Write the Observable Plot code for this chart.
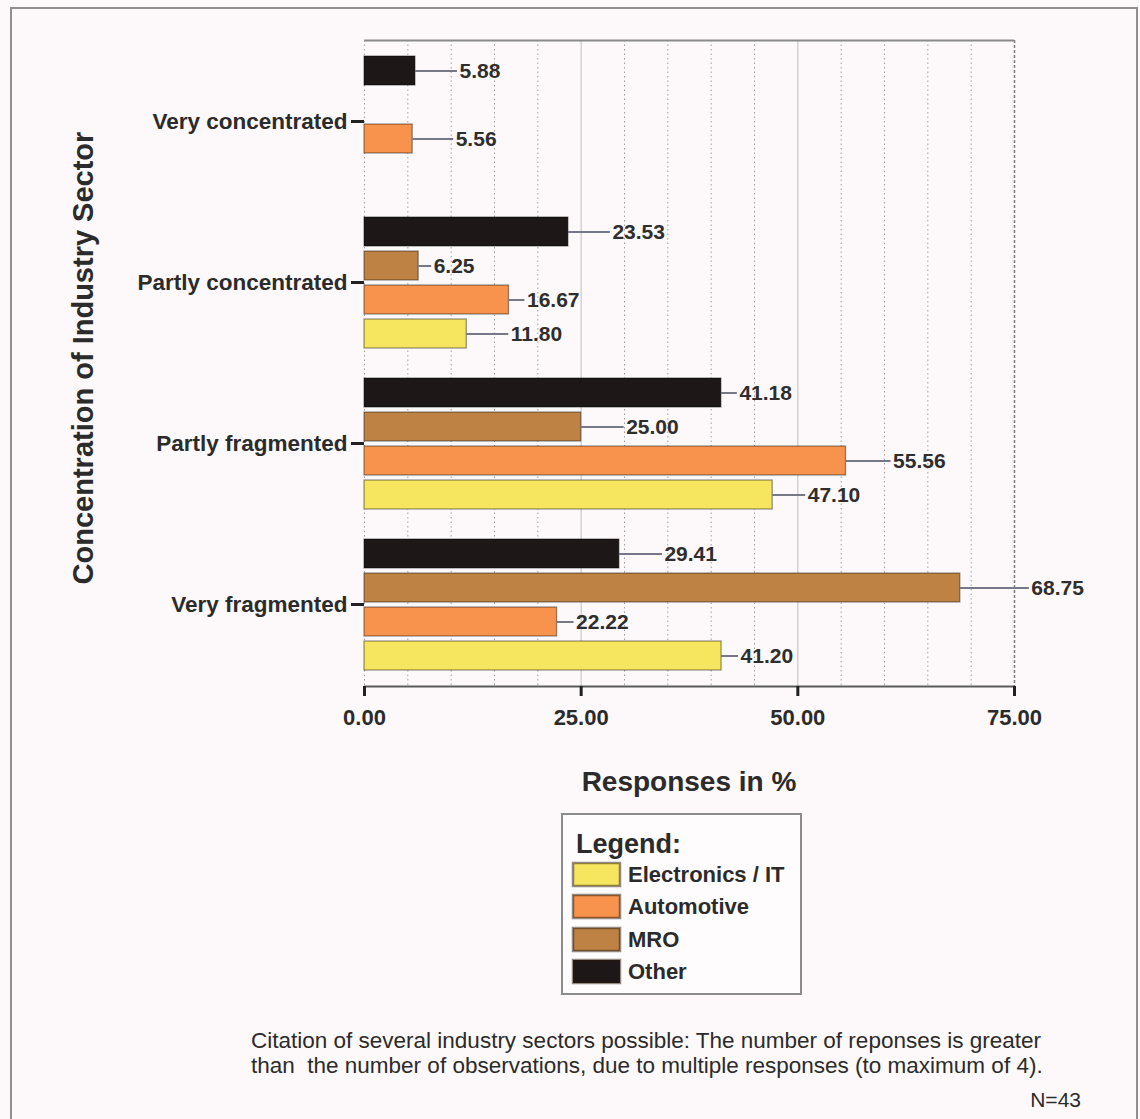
<!DOCTYPE html>
<html>
<head>
<meta charset="utf-8">
<script src="https://cdn.jsdelivr.net/npm/d3@7"></script>
<script src="https://cdn.jsdelivr.net/npm/@observablehq/plot@0.6"></script>
<style>
  html, body { margin: 0; padding: 0; background: #fdf9fa; }
  #page { position: relative; width: 1140px; height: 1119px; overflow: hidden;
          font-family: "Liberation Sans", Arial, sans-serif; color: #2b2b2b; background: #fdf9fa; }
  #outer { position: absolute; left: 10px; top: 7px; width: 1128px; height: 1140px;
           border: 2px solid #8f8f8f; box-sizing: border-box; }
  #grid, #chart { position: absolute; left: 0; top: 0; }
  #ylabel { position: absolute; left: 83px; top: 358px; transform: translate(-50%, -50%) rotate(-90deg);
            white-space: nowrap; font: bold 29px/1 "Liberation Sans", Arial, sans-serif; color: #2b2b2b; }
  #xlabel { position: absolute; left: 0; width: 1378px; text-align: center; top: 768px;
            font: bold 28px/1 "Liberation Sans", Arial, sans-serif; color: #2b2b2b; }
  #legendBox { position: absolute; left: 561px; top: 813px; width: 241px; height: 182px;
               border: 2px solid #8c8c8c; box-sizing: border-box; background: #fefcfc; }
  #legendTitle { position: absolute; left: 13px; top: 16px; font: bold 27px/1 "Liberation Sans", Arial, sans-serif; color: #2b2b2b; }
  #legendHolder { position: absolute; left: 10px; top: 46px; width: 225px; }
  .sector-swatches-columns { margin: 0 !important; columns: 1 !important; }
  .sector-swatch { font: bold 22px/27px "Liberation Sans", Arial, sans-serif !important; color: #2b2b2b;
                   margin-bottom: 5.3px; padding-bottom: 0 !important; overflow: visible !important; }
  .sector-swatch span, .sector-swatch div { overflow: visible !important; text-overflow: clip !important; }
  .sector-swatch svg { margin-right: 8px !important; }
  .sector-swatch svg rect { stroke: rgba(40, 25, 10, 0.5); stroke-width: 2.5px; }
  #caption { position: absolute; left: 251px; top: 1028px; font: 22.5px/25px "Liberation Sans", Arial, sans-serif; color: #2b2b2b; white-space: nowrap; }
  #nobs { position: absolute; right: 59px; top: 1089px; font: 21px/1 "Liberation Sans", Arial, sans-serif; color: #2b2b2b; }
</style>
</head>
<body>
<div id="page">
  <div id="outer"></div>
  <div id="grid"></div>
  <div id="chart"></div>
  <div id="ylabel">Concentration of Industry Sector</div>
  <div id="xlabel">Responses in %</div>
  <div id="legendBox">
    <div id="legendTitle">Legend:</div>
    <div id="legendHolder"></div>
  </div>
  <div id="caption">Citation of several industry sectors possible: The number of reponses is greater<br>than&nbsp; the number of observations, due to multiple responses (to maximum of 4).</div>
  <div id="nobs">N=43</div>
</div>
<script>
// Degree of concentration of the industry sector
const categories = ["Very concentrated", "Partly concentrated", "Partly fragmented", "Very fragmented"];

// Industry sectors (legend order)
const seriesNames = ["Electronics / IT", "Automotive", "MRO", "Other"];

// Responses in % per sector, one value per concentration category (null = no bar)
const electronics = [null, 11.80, 47.10, 41.20];
const automotive  = [5.56, 16.67, 55.56, 22.22];
const mro         = [null, 6.25, 25.00, 68.75];
const other       = [5.88, 23.53, 41.18, 29.41];

// Axis ticks
const xTicks = [0, 25, 50, 75];
const gridTicks = [0, 5, 10, 15, 20, 30, 35, 40, 45, 55, 60, 65, 70];

// Sector colours
const colors = ["#f6e55f", "#f8934d", "#be8344", "#1e1717"];

// Length (px) of the leader line between each bar end and its value label
const leaderElectronics = [null, 42, 33, 17];
const leaderAutomotive  = [41, 16, 45, 17];
const leaderMro         = [null, 13, 43, 69];
const leaderOther       = [42, 42, 16, 43];

const seriesValues = [electronics, automotive, mro, other];
const seriesLeaders = [leaderElectronics, leaderAutomotive, leaderMro, leaderOther];

const rows = [];
seriesNames.forEach((s, i) => categories.forEach((c, j) => {
  const v = seriesValues[i][j];
  if (v != null) rows.push({category: c, series: s, value: v, leader: seriesLeaders[i][j]});
}));

const fontFamily = '"Liberation Sans", Arial, sans-serif';
const frame = {width: 1140, height: 740, marginTop: 40, marginBottom: 54, marginLeft: 364, marginRight: 126};

// Grid layer: continuous vertical lines behind all the groups, plus the x axis
const grid = Plot.plot({
  ...frame,
  style: {background: "transparent", fontFamily, overflow: "visible"},
  x: {domain: [0, 75], axis: null},
  y: {domain: [0, 1], axis: null},
  marks: [
    Plot.ruleX(gridTicks, {stroke: "#9f9f9f", strokeDasharray: "1.5,3", strokeWidth: 1}),
    Plot.ruleX([25, 50], {stroke: "#c8c8c8", strokeWidth: 1.2}),
    Plot.ruleX([75], {stroke: "#7c7c7c", strokeDasharray: "3,2", strokeWidth: 1.5}),
    Plot.ruleY([1], {stroke: "#8a8a8a", strokeWidth: 2}),
    Plot.ruleY([0], {stroke: "#5a5a5a", strokeWidth: 2}),
    Plot.axisX({ticks: xTicks, tickFormat: d3.format(".2f"), tickSize: 10, tickPadding: 13,
      strokeWidth: 3, stroke: "#222", fontSize: 22, fontWeight: "bold", fill: "#2b2b2b",
      label: null})
  ]
});
document.getElementById("grid").appendChild(grid);

const labelMarks = rows.flatMap(d => [
  Plot.ruleY([d], {x1: "value", x2: "value", y: "series", fy: "category",
    insetRight: -d.leader, stroke: "#767888", strokeWidth: 2}),
  Plot.text([d], {x: "value", y: "series", fy: "category", text: r => r.value.toFixed(2),
    textAnchor: "start", dx: d.leader + 2, fontSize: 21, fontWeight: "bold", fill: "#2e2e2e",
    fontFamily})
]);

const chart = Plot.plot({
  ...frame,
  style: {background: "transparent", fontFamily, overflow: "visible"},
  x: {domain: [0, 75], axis: null},
  y: {domain: [...seriesNames].reverse(), paddingInner: 0.15, paddingOuter: 0, axis: null},
  fy: {domain: categories, paddingInner: 0.167, paddingOuter: 0.0835, axis: null},
  color: {domain: seriesNames, range: colors},
  marks: [
    // bars
    Plot.barX(rows, {x: "value", y: "series", fy: "category", fill: "series",
      stroke: "#000", strokeOpacity: 0.4, strokeWidth: 1.3}),
    // value labels with leader lines
    ...labelMarks,
    // category axis
    Plot.axisFy({anchor: "left", tickSize: 13, tickPadding: 4, strokeWidth: 3, stroke: "#222",
      fontSize: 22.5, fontWeight: "bold", fill: "#2b2b2b", label: null})
  ]
});
document.getElementById("chart").appendChild(chart);

const legend = chart.legend("color", {columns: 1, swatchWidth: 47, swatchHeight: 23, className: "sector"});
document.getElementById("legendHolder").appendChild(legend);
</script>
</body>
</html>
